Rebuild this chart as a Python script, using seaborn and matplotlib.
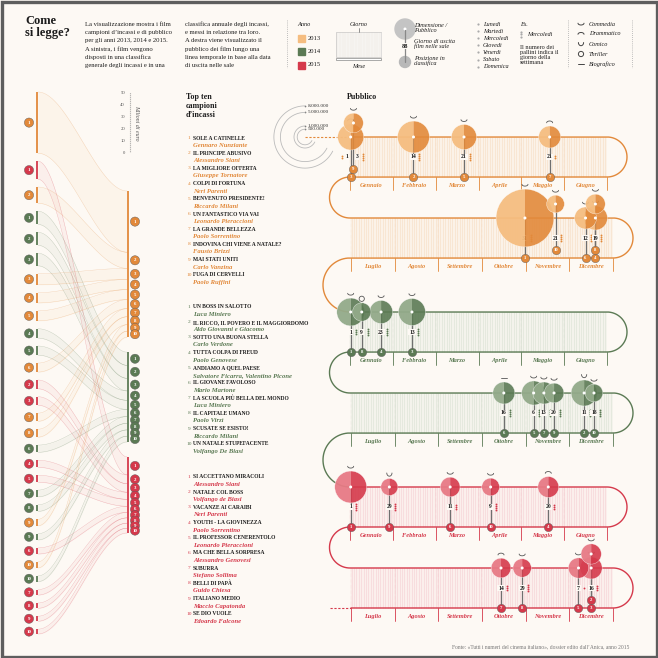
import datetime

import numpy as np
import pandas as pd
import matplotlib.pyplot as plt
from matplotlib.patches import Wedge, Rectangle, Circle
import seaborn as sns

YEARS = [2013, 2014, 2015]

TITLES_2013 = ["SOLE A CATINELLE", "IL PRINCIPE ABUSIVO", "LA MIGLIORE OFFERTA",
               "COLPI DI FORTUNA", "BENVENUTO PRESIDENTE!", "UN FANTASTICO VIA VAI",
               "LA GRANDE BELLEZZA", "INDOVINA CHI VIENE A NATALE?", "MAI STATI UNITI",
               "FUGA DI CERVELLI"]
DIRECTORS_2013 = ["Gennaro Nunziante", "Alessandro Siani", "Giuseppe Tornatore", "Neri Parenti",
                  "Riccardo Milani", "Leonardo Pieraccioni", "Paolo Sorrentino", "Fausto Brizzi",
                  "Carlo Vanzina", "Paolo Ruffini"]
TITLES_2014 = ["UN BOSS IN SALOTTO", "IL RICCO, IL POVERO E IL MAGGIORDOMO",
               "SOTTO UNA BUONA STELLA", "TUTTA COLPA DI FREUD", "ANDIAMO A QUEL PAESE",
               "IL GIOVANE FAVOLOSO", "LA SCUOLA PIÙ BELLA DEL MONDO", "IL CAPITALE UMANO",
               "SCUSATE SE ESISTO!", "UN NATALE STUPEFACENTE"]
DIRECTORS_2014 = ["Luca Miniero", "Aldo Giovanni e Giacomo", "Carlo Verdone", "Paolo Genovese",
                  "Salvatore Ficarra, Valentino Picone", "Mario Martone", "Luca Miniero",
                  "Paolo Virzì", "Riccardo Milani", "Volfango De Biasi"]
TITLES_2015 = ["SI ACCETTANO MIRACOLI", "NATALE COL BOSS", "VACANZE AI CARAIBI",
               "YOUTH - LA GIOVINEZZA", "IL PROFESSOR CENERENTOLO", "MA CHE BELLA SORPRESA",
               "SUBURRA", "BELLI DI PAPÀ", "ITALIANO MEDIO", "SE DIO VUOLE"]
DIRECTORS_2015 = ["Alessandro Siani", "Volfango de Biasi", "Neri Parenti", "Paolo Sorrentino",
                  "Leonardo Pieraccioni", "Alessandro Genovesi", "Stefano Sollima", "Guido Chiesa",
                  "Maccio Capatonda", "Edoardo Falcone"]

# box office, millions of euro (rank 1..10)
GROSS_2013 = [51.0, 13.5, 9.2, 8.5, 8.3, 7.5, 6.8, 6.6, 5.4, 5.0]
GROSS_2014 = [11.0, 10.8, 10.5, 7.8, 7.6, 6.0, 5.6, 5.5, 5.2, 4.8]
GROSS_2015 = [15.0, 7.3, 7.1, 5.9, 5.8, 5.1, 4.6, 4.4, 4.2, 4.0]

# release dates and audience (millions of tickets)
MONTH_2013 = [10, 2, 1, 12, 3, 12, 5, 12, 1, 11]
DAY_2013 = [31, 14, 1, 19, 21, 12, 21, 19, 3, 21]
AUDIENCE_2013 = [6.9, 2.1, 1.4, 1.2, 1.3, 1.0, 1.0, 0.8, 0.8, 0.65]
GENRE_2013 = ["commedia", "commedia", "drammatico", "commedia", "commedia",
              "commedia", "drammatico", "commedia", "commedia", "commedia"]

MONTH_2014 = [1, 12, 2, 1, 11, 10, 11, 1, 11, 12]
DAY_2014 = [1, 11, 13, 23, 6, 16, 13, 9, 20, 18]
AUDIENCE_2014 = [1.6, 1.4, 1.5, 1.1, 1.2, 1.0, 1.0, 0.7, 0.8, 0.65]
GENRE_2014 = ["commedia", "comico", "commedia", "commedia", "commedia",
              "biografico", "commedia", "thriller", "commedia", "commedia"]

MONTH_2015 = [1, 12, 12, 5, 12, 3, 10, 10, 1, 4]
DAY_2015 = [1, 16, 16, 20, 7, 11, 14, 29, 29, 9]
AUDIENCE_2015 = [2.1, 0.85, 1.0, 0.9, 0.85, 0.8, 0.8, 0.7, 0.6, 0.65]
GENRE_2015 = ["commedia", "commedia", "commedia", "drammatico", "commedia",
              "commedia", "drammatico", "commedia", "comico", "commedia"]

MONTHS = ["Gennaio", "Febbraio", "Marzo", "Aprile", "Maggio", "Giugno",
          "Luglio", "Agosto", "Settembre", "Ottobre", "Novembre", "Dicembre"]
DAYS_IN_MONTH = [31, 28, 31, 30, 31, 30, 31, 31, 30, 31, 30, 31]
WEEKDAYS = ["Lunedì", "Martedì", "Mercoledì", "Giovedì", "Venerdì", "Sabato", "Domenica"]
GENRES = ["Commedia", "Drammatico", "Comico", "Thriller", "Biografico"]
SCALE_TICKS = [0, 10, 20, 30, 40, 50]
AUDIENCE_RINGS = [8.0, 5.0, 1.0, 0.5]
RING_LABELS = ["8.000.000", "5.000.000", "1.000.000", "500.000"]

BG = "#fdf9f4"
INK = "#1c1c1c"
DARK = {2013: "#e2893a", 2014: "#5b7a54", 2015: "#d5394b"}
LIGHT = {2013: "#f5bd80", 2014: "#93aa8a", 2015: "#e77a85"}
PALE = {2013: "#f7dcc0", 2014: "#d7e1d2", 2015: "#f5cdd2"}
SERIF = ["Liberation Serif", "DejaVu Serif"]

# layout of the serpentine timeline
ROW_TOPS = {2013: (137, 218), 2014: (312, 393), 2015: (487, 568)}
ROW_X = [(350, 607), (351, 613)]
ROW_H = 40
LIST_TOP = {2013: 138, 2014: 307, 2015: 477}


def build_films():
    data = {
        2013: (TITLES_2013, DIRECTORS_2013, GROSS_2013, MONTH_2013, DAY_2013, AUDIENCE_2013, GENRE_2013),
        2014: (TITLES_2014, DIRECTORS_2014, GROSS_2014, MONTH_2014, DAY_2014, AUDIENCE_2014, GENRE_2014),
        2015: (TITLES_2015, DIRECTORS_2015, GROSS_2015, MONTH_2015, DAY_2015, AUDIENCE_2015, GENRE_2015),
    }
    rows = []
    for year, (titles, dirs, gross, months, days, aud, genre) in data.items():
        for i in range(10):
            rows.append(dict(year=year, rank=i + 1, title=titles[i], director=dirs[i],
                             gross=gross[i], month=months[i], day=days[i],
                             audience=aud[i], genre=genre[i],
                             weekday=datetime.date(year, months[i], days[i]).isoweekday()))
    return pd.DataFrame(rows)


def txt(ax, x, y, s, size=4.5, **kw):
    kw.setdefault("color", INK)
    kw.setdefault("va", "center")
    return ax.text(x, y, s, fontsize=size, family=SERIF, **kw)


def genre_symbol(ax, x, y, genre, color="#555555", lw=0.7):
    t = np.linspace(0, np.pi, 20)
    if genre == "commedia":
        ax.plot(x + 3 * np.cos(t), y - 0.8 + 1.8 * np.sin(t), color=color, lw=lw, solid_capstyle="round")
    elif genre == "drammatico":
        ax.plot(x + 3 * np.cos(t), y + 0.8 - 1.8 * np.sin(t), color=color, lw=lw, solid_capstyle="round")
    elif genre == "comico":
        ax.plot(x + 2.6 * np.cos(t), y - 1.5 + 3.2 * np.sin(t), color=color, lw=lw, solid_capstyle="round")
    elif genre == "thriller":
        ax.add_patch(Circle((x, y), 2.6, fill=False, ec=color, lw=lw))
    else:
        ax.plot([x - 3, x + 3], [y, y], color=color, lw=lw)


def draw_header(ax):
    txt(ax, 25, 27, "Come\nsi legge?", 9, weight="bold", linespacing=1.05)
    para1 = ["La visualizzazione mostra i film", "campioni d’incassi e di pubblico",
             "per gli anni 2013, 2014 e 2015.", "A sinistra, i film vengono",
             "disposti in una classifica", "generale degli incassi e in una"]
    para2 = ["classifica annuale degli incassi,", "e messi in relazione tra loro.",
             "A destra viene visualizzato il", "pubblico dei film lungo una",
             "linea temporale in base alla data", "di uscita nelle sale"]
    for i, (a, b) in enumerate(zip(para1, para2)):
        txt(ax, 85, 24 + i * 8.3, a, 4.8)
        txt(ax, 185, 24 + i * 8.3, b, 4.8)

    for x in (287, 568, 632):
        ax.plot([x, x], [20, 68], color="#aaaaaa", lw=0.6, ls=(0, (1, 1.5)))

    txt(ax, 297, 24, "Anno", 4.5, style="italic")
    for i, year in enumerate(YEARS):
        y = 38 + i * 13.5
        ax.add_patch(Rectangle((298, y - 3.5), 7, 7, color=LIGHT[year] if year == 2013 else DARK[year]))
        txt(ax, 308, y, str(year), 4.7)

    # giorno / mese legend
    txt(ax, 359, 25, "Giorno", 4.5, style="italic", ha="center")
    ax.plot([359, 359], [28, 32], color="#666666", lw=0.5)
    ax.add_patch(Rectangle((336, 32), 45, 25, fc="#f1ede8", ec="#bbbbbb", lw=0.4))
    for x in np.arange(337.5, 381, 1.6):
        ax.plot([x, x], [32.5, 56.5], color="#ffffff", lw=0.35)
    ax.add_patch(Rectangle((336, 57.5), 45, 2.5, fc="white", ec="#888888", lw=0.5))
    txt(ax, 359, 66, "Mese", 4.5, style="italic", ha="center")

    # bubble legend
    ax.plot([405, 405], [30, 62], color="#888888", lw=0.9)
    ax.add_patch(Circle((405, 29), 10, color="#c4c4c4"))
    ax.add_patch(Circle((405, 29), 0.8, color="white"))
    txt(ax, 405, 46, "88", 4.5, weight="bold", ha="center",
        bbox=dict(boxstyle="square,pad=0.15", fc=BG, ec="none"))
    ax.add_patch(Circle((405, 62), 5.5, color="#b8b8b8"))
    txt(ax, 414, 28, "Dimensione /\nPubblico", 4.5, style="italic", linespacing=1.0)
    txt(ax, 414, 44, "Giorno di uscita\nfilm nelle sale", 4.5, style="italic", linespacing=1.0)
    txt(ax, 414, 61, "Posizione in\nclassifica", 4.5, style="italic", linespacing=1.0)

    for i, wd in enumerate(WEEKDAYS):
        y = 24 + i * 7.1
        ax.scatter([478], [y], s=2.5, color="#aaaaaa", lw=0)
        txt(ax, 483, y, wd, 4.5, style="italic")
    txt(ax, 520, 24, "Es.", 4.5, style="italic")
    ax.scatter([521] * 3, [31.5, 34, 36.5], s=2.5, color="#aaaaaa", lw=0)
    txt(ax, 527, 34, "Mercoledì", 4.5, style="italic")
    txt(ax, 520, 55, "Il numero dei\npallini indica il\ngiorno della\nsettimana", 4.5, linespacing=0.95)

    for i, g in enumerate(GENRES):
        y = [24, 33.5, 44, 54, 64][i]
        genre_symbol(ax, 581, y, g.lower(), color="#444444")
        txt(ax, 589, y, g, 4.5, style="italic")


def draw_sankey(ax, films):
    scale = 1.2
    xl, xr = 38, 127
    order = films.sort_values("gross", ascending=False).reset_index(drop=True)
    heights = order["gross"].values * scale
    gap = (634 - 92 - heights.sum()) / (len(order) - 1)
    left_y0 = 92 + np.concatenate([[0], np.cumsum(heights[:-1] + gap)])

    right = {}
    y = 191
    for year in YEARS:
        sub = films[films.year == year].sort_values("rank")
        for _, f in sub.iterrows():
            h = f["gross"] * scale
            right[(year, f["rank"])] = (y, y + h)
            y += h
        y += 15

    t = np.linspace(0, 1, 50)
    s = 3 * t ** 2 - 2 * t ** 3
    xs = xl + (xr - xl) * t
    nodes = []
    for i, f in order.iterrows():
        c = DARK[f["year"]]
        ly0, ly1 = left_y0[i], left_y0[i] + heights[i]
        ry0, ry1 = right[(f["year"], f["rank"])]
        top = ly0 + (ry0 - ly0) * s
        bot = ly1 + (ry1 - ly1) * s
        ax.fill_between(xs, top, bot, color=LIGHT[f["year"]], alpha=0.08, lw=0)
        ax.plot(xs, top, color=c, lw=0.3, alpha=0.35)
        ax.plot(xs, bot, color=c, lw=0.3, alpha=0.35)
        ax.plot([37, 37], [ly0, ly1], color=c, lw=1.3, solid_capstyle="butt")
        ax.plot([127.7, 127.7], [ry0, ry1], color=c, lw=1.3, solid_capstyle="butt")
        nodes.append(dict(x=29, y=(ly0 + ly1) / 2, year=str(f["year"]), rank=f["rank"]))
        nodes.append(dict(x=135, y=(ry0 + ry1) / 2, year=str(f["year"]), rank=f["rank"]))
    nodes = pd.DataFrame(nodes)
    sns.scatterplot(data=nodes, x="x", y="y", hue="year",
                    palette={str(k): v for k, v in DARK.items()}, s=44,
                    edgecolor="#5a5a5a", linewidth=0.3, legend=False, ax=ax, zorder=5)
    for _, n in nodes.iterrows():
        txt(ax, n["x"], n["y"] + 0.2, str(n["rank"]), 3.5, color="white", weight="bold",
            ha="center", zorder=6)

    # scale
    ax.plot([130, 130], [93, 153], color="#777777", lw=0.8, ls=(0, (0.6, 1.2)))
    for v in SCALE_TICKS:
        txt(ax, 125, 153 - v * scale, str(v), 3.4, color="#555555", ha="right")
    txt(ax, 137, 123, "Milioni di euro", 4.2, color="#555555", rotation=-90, ha="center", style="italic")


def draw_lists(ax, films):
    txt(ax, 186, 106, "Top ten\ncampioni\nd’incassi", 5.8, weight="bold", linespacing=1.1)
    for year in YEARS:
        sub = films[films.year == year].sort_values("rank")
        for _, f in sub.iterrows():
            y = LIST_TOP[year] + (f["rank"] - 1) * 15.2
            txt(ax, 189, y, str(f["rank"]), 3.9, color=DARK[year], ha="center")
            txt(ax, 193, y, f["title"], 4.0, weight="bold")
            txt(ax, 193, y + 7.5, f["director"], 4.8, style="italic", weight="bold", color=DARK[year])


def date_to_x(month, day):
    half = 0 if month <= 6 else 1
    x0, x1 = ROW_X[half]
    w = (x1 - x0) / 6
    m = (month - 1) % 6
    return x0 + w * (m + (day - 0.5) / DAYS_IN_MONTH[month - 1])


def arc(xc, ya, yb, side):
    r = (yb - ya) / 2
    cy = (ya + yb) / 2
    a = np.linspace(-np.pi / 2, np.pi / 2, 40) if side == "right" else np.linspace(-np.pi / 2, -1.5 * np.pi, 40)
    return xc + r * np.cos(a), cy + r * np.sin(a)


def draw_timeline(ax, films):
    txt(ax, 347, 97, "Pubblico", 5.8, weight="bold")

    # audience rings
    cx, cy = 305, 137
    for m, lab in zip(AUDIENCE_RINGS, RING_LABELS):
        r = 11 * np.sqrt(m)
        a = np.linspace(0, 1.35 * np.pi, 80)
        ax.plot(cx - r * np.sin(a), cy - r * np.cos(a), color="#bbbbbb", lw=0.6)
        ax.scatter([cx], [cy - r], s=1.5, color="#777777", lw=0)
        txt(ax, cx + 3, cy - r, lab, 3.8, color="#333333")
    ax.plot([cx, 350], [cy, cy], color=DARK[2013], lw=0.8, ls=(0, (2, 1.5)))

    for yi, year in enumerate(YEARS):
        c = DARK[year]
        t1, t2 = ROW_TOPS[year]
        for half, top in enumerate((t1, t2)):
            x0, x1 = ROW_X[half]
            bot = top + ROW_H
            ax.add_patch(Rectangle((x0, top), x1 - x0, ROW_H, color=PALE[year], alpha=0.22, lw=0))
            days = np.arange(x0 + 0.7, x1, 2.4)
            ax.vlines(days, top, bot, color=PALE[year], lw=0.4, alpha=0.9)
            w = (x1 - x0) / 6
            for k in range(7):
                ax.plot([x0 + k * w] * 2, [bot, bot + 13], color=c, lw=0.6)
            for k in range(6):
                ax.plot([x0 + k * w] * 2, [top, bot], color=c, lw=0.35, alpha=0.35, ls=(0, (1, 1.5)))
                txt(ax, x0 + (k + 0.5) * w, bot + 8.5, MONTHS[half * 6 + k], 4.6,
                    color=c, style="italic", weight="bold", ha="center")
        # serpentine path
        px, py = [ROW_X[0][0], ROW_X[0][1]], [t1, t1]
        ax_, ay_ = arc(ROW_X[0][1], t1, t1 + ROW_H, "right")
        px += list(ax_) + [ROW_X[0][0]]
        py += list(ay_) + [t1 + ROW_H]
        ax_, ay_ = arc(ROW_X[0][0], t1 + ROW_H, t2, "left")
        px += list(ax_) + [ROW_X[1][1]]
        py += list(ay_) + [t2]
        ax_, ay_ = arc(ROW_X[1][1], t2, t2 + ROW_H, "right")
        px += list(ax_) + [ROW_X[1][0]]
        py += list(ay_) + [t2 + ROW_H]
        if yi < len(YEARS) - 1:
            nxt = ROW_TOPS[YEARS[yi + 1]][0]
            ax_, ay_ = arc(ROW_X[0][0], t2 + ROW_H, nxt, "left")
            px += list(ax_)
            py += list(ay_)
        ax.plot(px, py, color=c, lw=1.0, solid_capstyle="round")
        if yi == len(YEARS) - 1:
            ax.plot([330, ROW_X[1][0]], [t2 + ROW_H] * 2, color=c, lw=0.8, ls=(0, (2, 1.5)))

        # films
        sub = films[films.year == year].copy()
        sub["x"] = [date_to_x(m, d) for m, d in zip(sub["month"], sub["day"])]
        sub = sub.sort_values(["month", "day", "audience"], ascending=[True, True, False])
        placed = []
        levels = []
        for _, f in sub.iterrows():
            lv = 0
            for px_, plv in placed:
                if abs(px_ - f["x"]) < 6:
                    lv = max(lv, plv + 1)
            placed.append((f["x"], lv))
            levels.append(lv)
        sub["level"] = levels
        sub["top"] = [t1 if m <= 6 else t2 for m in sub["month"]]

        # stems and labels
        labels = sub.drop_duplicates(["month", "day"])[["x", "top", "day", "weekday"]].values.tolist()
        labels.sort(key=lambda r: (r[1], r[0]))
        shifts = [0.0] * len(labels)
        for i in range(1, len(labels)):
            if labels[i][1] == labels[i - 1][1] and labels[i][0] - labels[i - 1][0] < 8:
                shifts[i - 1] -= 3.5
                shifts[i] += 3.5
        for _, f in sub.iterrows():
            ax.plot([f["x"]] * 2, [f["top"] - 14 * f["level"], f["top"] + ROW_H - 8 * f["level"]],
                    color="#6f6f6f", lw=0.9, zorder=3)
        for (x, top, day, wd), sh in zip(labels, shifts):
            ym = top + ROW_H / 2
            txt(ax, x + sh, ym, str(int(day)), 4.1, weight="bold", ha="center", zorder=4,
                bbox=dict(boxstyle="square,pad=0.12", fc=BG, ec="none"))
            dx = -5 if sh < 0 else 5.8
            ys = ym + (np.arange(wd) - (wd - 1) / 2) * 2.2
            ax.scatter([x + sh + dx] * int(wd), ys, s=1.8, color=c, lw=0, zorder=4)

        # bubbles
        for _, f in sub.sort_values(["level", "audience"], ascending=[True, False]).iterrows():
            r = 11 * np.sqrt(f["audience"])
            by = f["top"] - 14 * f["level"]
            ax.add_patch(Wedge((f["x"], by), r, 90, 270, fc=LIGHT[year], ec="none", alpha=0.95, zorder=5))
            ax.add_patch(Wedge((f["x"], by), r, -90, 90, fc=c, ec="none", alpha=0.9, zorder=5))
            ax.add_patch(Circle((f["x"], by), r, fill=False, ec="white", lw=0.3, alpha=0.8, zorder=5))
            ax.add_patch(Circle((f["x"], by), 0.8, color="white", zorder=6))
            genre_symbol(ax, f["x"], by - r - 4, f["genre"], color="#555555", lw=0.6)

        rk = pd.DataFrame(dict(x=sub["x"], y=sub["top"] + ROW_H - 8 * sub["level"],
                               year=str(year), rank=sub["rank"]))
        sns.scatterplot(data=rk, x="x", y="y", color=c, s=36, edgecolor="#5a5a5a",
                        linewidth=0.3, legend=False, ax=ax, zorder=7)
        for _, n in rk.iterrows():
            txt(ax, n["x"], n["y"] + 0.2, str(n["rank"]), 3.4, color="white", weight="bold",
                ha="center", zorder=8)


def main():
    sns.set_theme(style="white")
    plt.rcParams["font.family"] = SERIF
    films = build_films()

    fig = plt.figure(figsize=(6.58, 6.58), dpi=100, facecolor=BG)
    ax = fig.add_axes([0, 0, 1, 1])
    ax.set_facecolor(BG)

    draw_header(ax)
    draw_sankey(ax, films)
    draw_lists(ax, films)
    draw_timeline(ax, films)

    txt(ax, 629, 647, "Fonte: «Tutti i numeri del cinema italiano», dossier edito dall’Anica, anno 2015",
        4.0, color="#777777", ha="right")
    ax.add_patch(Rectangle((1.5, 1.5), 655, 655, fill=False, ec="#5e5e5e", lw=2.4))

    ax.set_xlim(0, 658)
    ax.set_ylim(658, 0)
    ax.set_aspect("equal")
    ax.axis("off")
    fig.savefig("out.png", dpi=100, facecolor=BG)


if __name__ == "__main__":
    main()
